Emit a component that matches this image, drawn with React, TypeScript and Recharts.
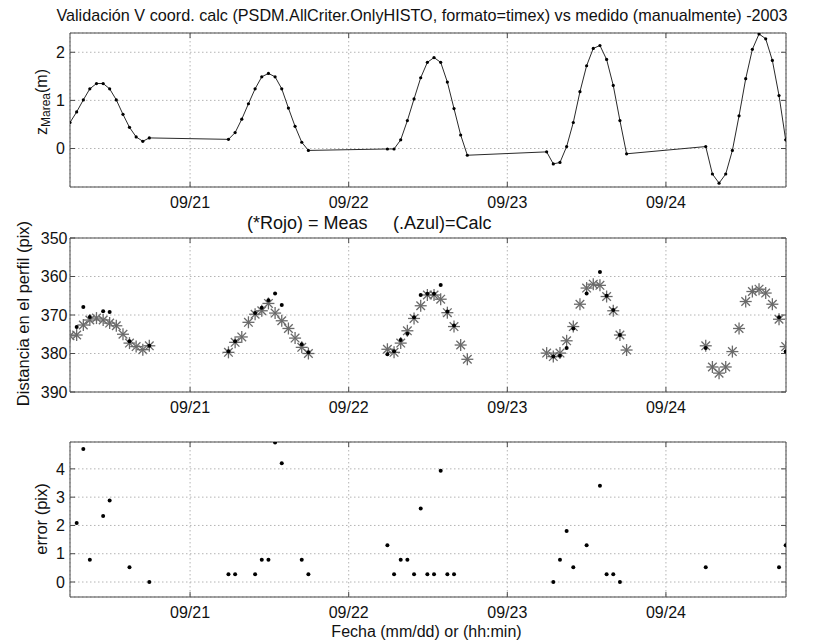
import React from "react";
import { ScatterChart, Scatter, XAxis, YAxis, CartesianGrid } from "recharts";

// Time stamps (day of September 2003, fractional), one per hourly sample
const TIME = [
  20.243, 20.285, 20.327, 20.368, 20.41, 20.452, 20.493, 20.535, 20.577, 20.618, 20.66, 20.702, 20.743,
  21.242, 21.284, 21.326, 21.368, 21.41, 21.452, 21.494, 21.536, 21.578, 21.62, 21.662, 21.704, 21.746,
  22.244, 22.286, 22.328, 22.37, 22.412, 22.454, 22.496, 22.538, 22.58, 22.622, 22.664, 22.706, 22.748,
  23.248, 23.29, 23.332, 23.374, 23.416, 23.458, 23.5, 23.542, 23.584, 23.626, 23.668, 23.71, 23.752,
  24.251, 24.293, 24.335, 24.377, 24.419, 24.461, 24.503, 24.545, 24.587, 24.629, 24.671, 24.713, 24.755,
];

// z Marea (m)
const TIDE = [
  0.54, 0.76, 1.01, 1.24, 1.35, 1.35, 1.24, 1.01, 0.71, 0.44, 0.24, 0.15, 0.22,
  0.19, 0.33, 0.61, 0.93, 1.24, 1.49, 1.56, 1.49, 1.24, 0.84, 0.46, 0.13, -0.04,
  -0.01, -0.01, 0.18, 0.58, 1.03, 1.47, 1.79, 1.89, 1.79, 1.38, 0.83, 0.28, -0.14,
  -0.07, -0.32, -0.29, 0.04, 0.54, 1.18, 1.72, 2.08, 2.14, 1.85, 1.31, 0.58, -0.11,
  0.04, -0.53, -0.72, -0.53, -0.04, 0.68, 1.45, 2.06, 2.38, 2.28, 1.83, 1.1, 0.18,
];

// Distancia medida (pix)
const MEAS = [
  375.4, 375.2, 372.6, 371.3, 370.8, 371.3, 372.1, 372.8, 375.0, 377.3, 378.2, 379.0, 378.0,
  379.7, 377.1, 375.7, 371.9, 369.8, 368.9, 367.0, 369.5, 371.5, 373.5, 376.0, 378.4, 380.0,
  378.9, 379.7, 377.3, 374.1, 370.9, 367.6, 364.8, 364.8, 365.9, 369.4, 373.0, 377.8, 381.5,
  379.9, 380.8, 379.9, 376.7, 373.0, 367.2, 363.0, 362.0, 362.3, 365.2, 368.9, 375.2, 379.1,
  378.0, 383.5, 385.1, 383.5, 379.5, 373.5, 366.5, 363.9, 363.3, 364.3, 367.2, 371.1, 378.2,
];

// Distancia calculada (pix)
const CALC = [
  null, 373.1, 367.9, 370.5, null, 369.0, 369.2, null, null, 376.8, null, null, 378.0,
  379.4, 376.8, null, null, 369.5, 368.1, 366.2, 364.4, 367.4, null, null, 377.6, 379.7,
  380.2, 379.4, 376.5, 374.9, 370.6, 364.8, 364.5, 364.5, 362.2, 369.1, 372.7, null, null,
  null, 380.8, 380.6, 378.6, 373.5, null, 364.4, null, 358.8, 365.0, 368.7, 375.2, null,
  378.6, null, null, null, null, null, null, null, null, null, null, 370.6, 379.5,
];

// error (pix)
const ERR = [
  null, 2.09, 4.7, 0.79, null, 2.33, 2.88, null, null, 0.52, null, null, 0.0,
  0.27, 0.27, null, null, 0.27, 0.79, 0.79, 4.93, 4.2, null, null, 0.79, 0.27,
  1.3, 0.27, 0.79, 0.79, 0.27, 2.6, 0.27, 0.27, 3.93, 0.27, 0.27, null, null,
  null, 0.0, 0.79, 1.8, 0.52, null, 1.3, null, 3.4, 0.27, 0.27, 0.0, null,
  0.52, null, null, null, null, null, null, null, null, null, null, 0.52, 1.3,
];

const X_TICKS = [21, 22, 23, 24];
const X_DOMAIN: [number, number] = [20.243, 24.757];

const TIDE_DOMAIN: [number, number] = [-0.8, 2.4];
const TIDE_TICKS = [0, 1, 2];

const FONT = "'Liberation Sans', Arial, Helvetica, sans-serif";
const FRAME = "#4a4a4a";
const GRID = "#b4b4b4";
const DASH = "1.5 2.5";
const TICK = { fill: "#111", fontSize: 16, fontFamily: FONT };

const fmtDay = (v: number) => `09/${v}`;
const blank = () => "";

const tideData = TIME.map((t, i) => ({ t, v: TIDE[i] }));
const measData = TIME.map((t, i) => ({ t, v: MEAS[i] }));
const calcData = TIME.map((t, i) => ({ t, v: CALC[i] })).filter((p) => p.v !== null);
const errData = TIME.map((t, i) => ({ t, v: ERR[i] })).filter((p) => p.v !== null);

// MATLAB-like boxed axes, ticks pointing inwards
function frame(
  yDomain: [number, number],
  yTicks: number[],
  yMargin: number,
  reversed = false,
  visible = true
) {
  const line = visible ? undefined : false;
  return [
    visible ? (
      <CartesianGrid key="grid" xAxisId="b" yAxisId="l" stroke={GRID} strokeDasharray={DASH} />
    ) : null,
    <XAxis
      key="xb"
      xAxisId="b"
      dataKey="t"
      type="number"
      domain={X_DOMAIN}
      ticks={X_TICKS}
      allowDataOverflow
      interval={0}
      tickFormatter={fmtDay}
      tickSize={-5}
      tickMargin={15}
      height={30}
      stroke={FRAME}
      axisLine={line}
      tickLine={line}
      tick={visible ? TICK : false}
    />,
    <XAxis
      key="xt"
      xAxisId="t"
      dataKey="t"
      orientation="top"
      type="number"
      domain={X_DOMAIN}
      ticks={X_TICKS}
      allowDataOverflow
      interval={0}
      tickFormatter={blank}
      tickSize={-5}
      height={10}
      stroke={FRAME}
      axisLine={line}
      tickLine={line}
    />,
    <YAxis
      key="yl"
      yAxisId="l"
      dataKey="v"
      type="number"
      domain={yDomain}
      ticks={yTicks}
      reversed={reversed}
      allowDataOverflow
      interval={0}
      tickSize={-5}
      tickMargin={yMargin}
      width={70}
      stroke={FRAME}
      axisLine={line}
      tickLine={line}
      tick={visible ? TICK : false}
    />,
    <YAxis
      key="yr"
      yAxisId="r"
      dataKey="v"
      orientation="right"
      type="number"
      domain={yDomain}
      ticks={yTicks}
      reversed={reversed}
      allowDataOverflow
      interval={0}
      tickFormatter={blank}
      tickSize={-5}
      width={30}
      stroke={FRAME}
      axisLine={line}
      tickLine={line}
    />,
  ];
}

const NoShape = () => <g />;

const Asterisk = (p: any) => {
  const { cx, cy } = p;
  if (cx == null || cy == null) return null;
  const r = 6;
  const d = 4.3;
  return (
    <g stroke="#6a6a6a" strokeWidth={1.3}>
      <line x1={cx - r} y1={cy} x2={cx + r} y2={cy} />
      <line x1={cx} y1={cy - r} x2={cx} y2={cy + r} />
      <line x1={cx - d} y1={cy - d} x2={cx + d} y2={cy + d} />
      <line x1={cx - d} y1={cy + d} x2={cx + d} y2={cy - d} />
    </g>
  );
};

const Dot = (p: any) => {
  const { cx, cy } = p;
  if (cx == null || cy == null) return null;
  return <circle cx={cx} cy={cy} r={2} fill="#000" />;
};

const SmallDot = (p: any) => {
  const { cx, cy } = p;
  if (cx == null || cy == null) return null;
  return <circle cx={cx} cy={cy} r={1.6} fill="#000" />;
};

const W = 820;
const TIDE_MARGIN = { top: 28, right: 4, bottom: 3, left: 0 };

export default function App() {
  return (
    <div
      style={{
        position: "absolute",
        left: 0,
        top: 0,
        width: W,
        height: 642,
        background: "#fff",
        overflow: "hidden",
        fontFamily: FONT,
      }}
    >
      {/* z Marea: axes, grid and box */}
      <div style={{ position: "absolute", left: 0, top: -5 }}>
        <ScatterChart id="panel-tide-axes" width={W} height={225} margin={TIDE_MARGIN}>
          {frame(TIDE_DOMAIN, TIDE_TICKS, 10)}
          <Scatter
            xAxisId="b"
            yAxisId="l"
            name="zMareaAxes"
            data={tideData}
            shape={NoShape}
            isAnimationActive={false}
          />
        </ScatterChart>
      </div>

      {/* z Marea: the series */}
      <div style={{ position: "absolute", left: 0, top: -5 }}>
        <ScatterChart id="panel-tide" width={W} height={225} margin={TIDE_MARGIN}>
          {frame(TIDE_DOMAIN, TIDE_TICKS, 10, false, false)}
          <Scatter
            xAxisId="b"
            yAxisId="l"
            name="zMarea"
            data={tideData}
            line={{ stroke: "#2a2a2a", strokeWidth: 1 }}
            lineType="joint"
            shape={SmallDot}
            isAnimationActive={false}
          />
        </ScatterChart>
      </div>

      {/* Distancia en el perfil */}
      <div style={{ position: "absolute", left: 0, top: 200 }}>
        <ScatterChart id="panel-dist" width={W} height={225} margin={{ top: 28, right: 4, bottom: 3, left: 0 }}>
          {frame([350, 390], [350, 360, 370, 380, 390], 7.5, true)}
          <Scatter
            xAxisId="b"
            yAxisId="l"
            name="Meas"
            data={measData}
            shape={Asterisk}
            isAnimationActive={false}
          />
          <Scatter
            xAxisId="b"
            yAxisId="l"
            name="Calc"
            data={calcData}
            shape={Dot}
            isAnimationActive={false}
          />
        </ScatterChart>
      </div>

      {/* error */}
      <div style={{ position: "absolute", left: 0, top: 405 }}>
        <ScatterChart id="panel-err" width={W} height={225} margin={{ top: 27, right: 4, bottom: 3, left: 0 }}>
          {frame([-0.53, 4.95], [0, 1, 2, 3, 4], 10)}
          <Scatter
            xAxisId="b"
            yAxisId="l"
            name="error"
            data={errData}
            shape={Dot}
            isAnimationActive={false}
          />
        </ScatterChart>
      </div>

      {/* titles and axis labels */}
      <svg
        width={W}
        height={642}
        style={{ position: "absolute", left: 0, top: 0, pointerEvents: "none" }}
        fontFamily={FONT}
        fill="#111"
      >
        <text x={422} y={20.5} textAnchor="middle" fontSize={16.2}>
          Validación V coord. calc (PSDM.AllCriter.OnlyHISTO, formato=timex) vs medido (manualmente) -2003
        </text>
        <text x={247} y={228.5} fontSize={18}>
          (*Rojo) = Meas
        </text>
        <text x={393} y={228.5} fontSize={18}>
          (.Azul)=Calc
        </text>
        <text x={426.5} y={637} textAnchor="middle" fontSize={16}>
          Fecha (mm/dd) or (hh:min)
        </text>
        <text transform="translate(47,102) rotate(-90)" textAnchor="middle" fontSize={16}>
          z
          <tspan fontSize={12} dy={3}>
            Marea
          </tspan>
          <tspan dy={-3}>(m)</tspan>
        </text>
        <text transform="translate(29,313.5) rotate(-90)" textAnchor="middle" fontSize={16.5}>
          Distancia en el perfil (pix)
        </text>
        <text transform="translate(47,519) rotate(-90)" textAnchor="middle" fontSize={16.5}>
          error (pix)
        </text>
      </svg>
    </div>
  );
}
